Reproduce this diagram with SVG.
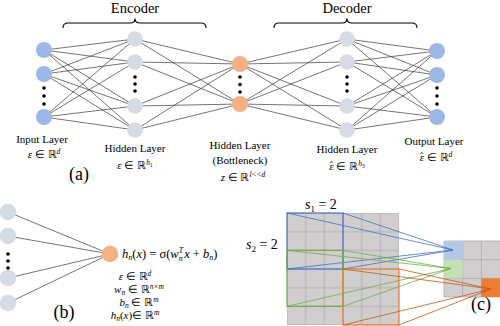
<svg xmlns="http://www.w3.org/2000/svg" width="500" height="326" viewBox="0 0 500 326">
<style>
text{font-family:'Liberation Serif','Times New Roman',serif;fill:#000}
.c{text-anchor:middle}
.l{font-size:11px}
.i{font-style:italic}
.s{font-size:7.5px}
.e line{stroke:#3a3a3a;stroke-width:0.7}
.blue{fill:#9db8e6}
.grey{fill:#d6dce5}
.or{fill:#f4b183}
.brace{fill:none;stroke:#000;stroke-width:1.1}
.dot{fill:#000}
</style>
<defs>
<pattern id="grid" x="287" y="213" width="18.667" height="18.667" patternUnits="userSpaceOnUse">
<rect width="18.667" height="18.667" fill="#d0cece" stroke="#afabab" stroke-width="0.8"/>
</pattern>
</defs>

<g id="encoder-brace">
<path class="brace" d="M63,28 Q63,23 68,23 L130,23 Q135,23 135,18.5 Q135,23 140,23 L201,23 Q206,23 206,28"/>
<text class="c" x="135" y="13" font-size="14.5">Encoder</text>
</g>
<g id="decoder-brace">
<path class="brace" d="M274,28 Q274,23 279,23 L342,23 Q347,23 347,18.5 Q347,23 352,23 L412,23 Q417,23 417,28"/>
<text class="c" x="347" y="13" font-size="14.5">Decoder</text>
</g>

<g id="connectors" class="e">
<line x1="44" y1="50" x2="135" y2="39"/><line x1="44" y1="50" x2="135" y2="62"/><line x1="44" y1="50" x2="135" y2="106"/><line x1="44" y1="50" x2="135" y2="130"/>
<line x1="44" y1="74" x2="135" y2="39"/><line x1="44" y1="74" x2="135" y2="62"/><line x1="44" y1="74" x2="135" y2="106"/><line x1="44" y1="74" x2="135" y2="130"/>
<line x1="44" y1="117" x2="135" y2="39"/><line x1="44" y1="117" x2="135" y2="62"/><line x1="44" y1="117" x2="135" y2="106"/><line x1="44" y1="117" x2="135" y2="130"/>
<line x1="135" y1="39" x2="240" y2="64"/><line x1="135" y1="39" x2="240" y2="104"/>
<line x1="135" y1="62" x2="240" y2="64"/><line x1="135" y1="62" x2="240" y2="104"/>
<line x1="135" y1="106" x2="240" y2="64"/><line x1="135" y1="106" x2="240" y2="104"/>
<line x1="135" y1="130" x2="240" y2="64"/><line x1="135" y1="130" x2="240" y2="104"/>
<line x1="240" y1="64" x2="347" y2="39"/><line x1="240" y1="64" x2="347" y2="62"/><line x1="240" y1="64" x2="347" y2="106"/><line x1="240" y1="64" x2="347" y2="130"/>
<line x1="240" y1="104" x2="347" y2="39"/><line x1="240" y1="104" x2="347" y2="62"/><line x1="240" y1="104" x2="347" y2="106"/><line x1="240" y1="104" x2="347" y2="130"/>
<line x1="347" y1="39" x2="437" y2="51"/><line x1="347" y1="39" x2="437" y2="75"/><line x1="347" y1="39" x2="437" y2="117"/>
<line x1="347" y1="62" x2="437" y2="51"/><line x1="347" y1="62" x2="437" y2="75"/><line x1="347" y1="62" x2="437" y2="117"/>
<line x1="347" y1="106" x2="437" y2="51"/><line x1="347" y1="106" x2="437" y2="75"/><line x1="347" y1="106" x2="437" y2="117"/>
<line x1="347" y1="130" x2="437" y2="51"/><line x1="347" y1="130" x2="437" y2="75"/><line x1="347" y1="130" x2="437" y2="117"/>
<line x1="8" y1="212" x2="110" y2="254"/><line x1="8" y1="236" x2="110" y2="254"/><line x1="8" y1="278" x2="110" y2="254"/><line x1="8" y1="303" x2="110" y2="254"/>
</g>

<g id="input-layer">
<circle class="blue" cx="44" cy="50" r="8"/><circle class="blue" cx="44" cy="74" r="8"/><circle class="blue" cx="44" cy="117" r="8"/>
<circle class="dot" cx="44" cy="88" r="1.8"/><circle class="dot" cx="44" cy="96" r="1.8"/><circle class="dot" cx="44" cy="104" r="1.8"/>
<text class="c l" x="42" y="143">Input Layer</text>
<text class="c l" x="44" y="158"><tspan class="i">ε</tspan> ∈ ℝ<tspan class="s i" dy="-4">d</tspan></text>
</g>
<g id="hidden-layer-1">
<circle class="grey" cx="135" cy="39" r="7.8"/><circle class="grey" cx="135" cy="62" r="7.8"/><circle class="grey" cx="135" cy="106" r="7.8"/><circle class="grey" cx="135" cy="130" r="7.8"/>
<circle class="dot" cx="135" cy="77" r="1.8"/><circle class="dot" cx="135" cy="84" r="1.8"/><circle class="dot" cx="135" cy="91" r="1.8"/>
<text class="c l" x="135" y="152">Hidden Layer</text>
<text class="c l" x="135" y="169"><tspan class="i">ε</tspan> ∈ ℝ<tspan class="s i" dy="-4">h</tspan><tspan font-size="5.5" dy="1.5">1</tspan></text>
</g>
<g id="bottleneck-layer">
<circle class="or" cx="240" cy="64" r="8"/><circle class="or" cx="240" cy="104" r="8"/>
<circle class="dot" cx="240" cy="77" r="1.8"/><circle class="dot" cx="240" cy="84.5" r="1.8"/><circle class="dot" cx="240" cy="92" r="1.8"/>
<text class="c l" x="240" y="149">Hidden Layer</text>
<text class="c l" x="240" y="164">(Bottleneck)</text>
<text class="c l" x="243" y="181"><tspan class="i">z</tspan> ∈ ℝ<tspan class="s i" dy="-4">l&lt;&lt;d</tspan></text>
</g>
<g id="hidden-layer-3">
<circle class="grey" cx="347" cy="39" r="7.8"/><circle class="grey" cx="347" cy="62" r="7.8"/><circle class="grey" cx="347" cy="106" r="7.8"/><circle class="grey" cx="347" cy="130" r="7.8"/>
<circle class="dot" cx="347" cy="77" r="1.8"/><circle class="dot" cx="347" cy="84" r="1.8"/><circle class="dot" cx="347" cy="91" r="1.8"/>
<text class="c l" x="347" y="153">Hidden Layer</text>
<text class="c l" x="347" y="170"><tspan class="i">ε</tspan><tspan dx="-4.3" dy="-1">ˆ</tspan><tspan dx="0.6" dy="1"> ∈ ℝ</tspan><tspan class="s i" dy="-4">h</tspan><tspan font-size="5.5" dy="1.5">3</tspan></text>
</g>
<g id="output-layer">
<circle class="blue" cx="437" cy="51" r="8"/><circle class="blue" cx="437" cy="75" r="8"/><circle class="blue" cx="437" cy="117" r="8"/>
<circle class="dot" cx="437" cy="88" r="1.8"/><circle class="dot" cx="437" cy="96" r="1.8"/><circle class="dot" cx="437" cy="104" r="1.8"/>
<text class="c l" x="434" y="145">Output Layer</text>
<text class="c l" x="436" y="161"><tspan class="i">ε</tspan><tspan dx="-4.3" dy="-1">ˆ</tspan><tspan dx="0.6" dy="1"> ∈ ℝ</tspan><tspan class="s i" dy="-4">d</tspan></text>
</g>
<text class="c" x="79" y="180" font-size="18">(a)</text>

<g id="neuron-inputs">
<circle class="grey" cx="8" cy="212" r="8.3"/><circle class="grey" cx="8" cy="236" r="8.3"/><circle class="grey" cx="8" cy="278" r="8.3"/><circle class="grey" cx="8" cy="303" r="8.3"/>
<circle class="dot" cx="8" cy="254" r="1.8"/><circle class="dot" cx="8" cy="261" r="1.8"/><circle class="dot" cx="8" cy="268" r="1.8"/>
</g>
<g id="neuron">
<circle class="or" cx="110" cy="254" r="8.3"/>
<text x="122" y="258" font-size="12.5"><tspan class="i">h</tspan><tspan class="i" font-size="8" dy="2">n</tspan><tspan dy="-2">(</tspan><tspan class="i">x</tspan>) = σ(<tspan class="i">w</tspan><tspan class="i" font-size="8" dy="2.5">n</tspan><tspan class="i" font-size="8" dx="-4" dy="-7.5">T</tspan><tspan class="i" dy="5" dx="1">x</tspan> + <tspan class="i">b</tspan><tspan class="i" font-size="8" dy="2">n</tspan><tspan dy="-2">)</tspan></text>
<text class="c l" x="135" y="280"><tspan class="i">ε</tspan> ∈ ℝ<tspan class="s i" dy="-4">d</tspan></text>
<text class="c l" x="139" y="293"><tspan class="i">w</tspan><tspan class="s i" dy="2">n</tspan><tspan dy="-2"> ∈ ℝ</tspan><tspan class="s i" dy="-4">n×m</tspan></text>
<text class="c l" x="139" y="306"><tspan class="i">b</tspan><tspan class="s i" dy="2">n</tspan><tspan dy="-2"> ∈ ℝ</tspan><tspan class="s i" dy="-4">m</tspan></text>
<text class="c l" x="135" y="319"><tspan class="i">h</tspan><tspan class="s i" dy="2">n</tspan><tspan dy="-2">(</tspan><tspan class="i">x</tspan>)∈ ℝ<tspan class="s i" dy="-4">m</tspan></text>
</g>
<text class="c" x="64" y="318" font-size="18">(b)</text>

<g id="input-grid">
<rect x="287" y="213" width="112" height="112" fill="url(#grid)"/>
</g>
<g id="output-grid">
<rect x="444" y="241" width="56" height="56" fill="#d0cece"/>
<path d="M444,241H500M444,259.67H500M444,278.33H500M444,297H500M444,241V297M462.67,241V297M481.33,241V297" stroke="#afabab" stroke-width="0.8" fill="none"/>
<rect x="444" y="241" width="18.67" height="18.67" fill="#b4c7e7"/>
<rect x="444" y="259.67" width="18.67" height="18.67" fill="#c5e0b4"/>
<rect x="481.33" y="278.33" width="18.67" height="18.67" fill="#ed7d31"/>
</g>
<g id="pool-blue" fill="none" stroke="#4472c4">
<rect x="287" y="213" width="56" height="56" stroke-width="1.2"/>
<path stroke-width="0.8" d="M287,213L453,250M343,213L453,250M287,269L453,250M343,269L453,250"/>
</g>
<g id="pool-green" fill="none" stroke="#70ad47">
<rect x="287" y="250.3" width="56" height="56" stroke-width="1.2"/>
<path stroke-width="0.8" d="M287,250.3L451,268.5M343,250.3L451,268.5M287,306.3L451,268.5M343,306.3L451,268.5"/>
</g>
<g id="pool-orange" fill="none">
<rect x="343" y="269" width="56" height="56" stroke="#ed7d31" stroke-width="1.2"/>
<path stroke="#c55a11" stroke-width="0.8" d="M343,269L491,289M399,269L491,289M343,325L491,289M399,325L491,289"/>
</g>
<text x="305" y="209" font-size="14"><tspan class="i">s</tspan><tspan font-size="9" dy="2.5">1</tspan><tspan dy="-2.5"> = 2</tspan></text>
<text x="246" y="249" font-size="14"><tspan class="i">s</tspan><tspan font-size="9" dy="2.5">2</tspan><tspan dy="-2.5"> = 2</tspan></text>
<text class="c" x="481" y="310" font-size="18">(c)</text>
</svg>
